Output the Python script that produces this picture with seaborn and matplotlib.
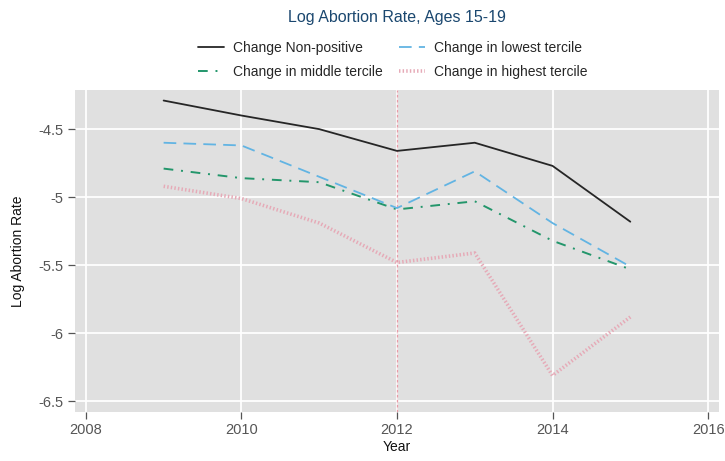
import matplotlib
matplotlib.use("Agg")
import matplotlib.pyplot as plt
import seaborn as sns
import pandas as pd

years = [2009, 2010, 2011, 2012, 2013, 2014, 2015]
non_positive = [-4.29, -4.40, -4.50, -4.66, -4.60, -4.77, -5.18]
lowest = [-4.60, -4.62, -4.85, -5.08, -4.81, -5.19, -5.51]
middle = [-4.79, -4.86, -4.89, -5.09, -5.03, -5.32, -5.53]
highest = [-4.92, -5.01, -5.19, -5.48, -5.41, -6.31, -5.88]

series_labels = ["Change Non-positive", "Change in middle tercile",
                 "Change in lowest tercile", "Change in highest tercile"]
x_ticks = [2008, 2010, 2012, 2014, 2016]
y_ticks = [-4.5, -5, -5.5, -6, -6.5]
y_tick_labels = ["-4.5", "-5", "-5.5", "-6", "-6.5"]
policy_year = 2012

sns.set_theme(style="darkgrid")
plt.rcParams["font.family"] = ["Liberation Sans", "DejaVu Sans"]

fig = plt.figure(figsize=(7.25, 4.61), dpi=100)
ax = fig.add_axes([0.1034, 0.1063, 0.8883, 0.6985])
ax.set_facecolor("#e0e0e0")

styles = {
    "Change Non-positive": dict(values=non_positive, color="#262626", ls="-", lw=1.3),
    "Change in middle tercile": dict(values=middle, color="#23966b", ls=(0, (5, 4, 1, 4)), lw=1.4),
    "Change in lowest tercile": dict(values=lowest, color="#62b4e3", ls=(0, (7, 4)), lw=1.3),
    "Change in highest tercile": dict(values=highest, color="#e6aab7", ls=(0, (0.4, 0.6)), lw=2.6),
}

for name in series_labels:
    s = styles[name]
    df = pd.DataFrame({"Year": years, "Rate": s["values"]})
    sns.lineplot(data=df, x="Year", y="Rate", ax=ax, color=s["color"],
                 linestyle=s["ls"], linewidth=s["lw"], label=name)

ax.axvline(policy_year, color="#e79aa6", gapcolor="#f2e2e5",
           linestyle=(0, (2, 2)), linewidth=0.9, zorder=1.5)

ax.set_xlim(2007.86, 2016.14)
ax.set_ylim(-6.578, -4.2125)
ax.set_xticks(x_ticks)
ax.set_yticks(y_ticks)
ax.set_yticklabels(y_tick_labels)
ax.grid(True, color="white", linewidth=1.3)
for sp in ax.spines.values():
    sp.set_visible(False)
ax.tick_params(axis="both", which="major", direction="out", length=5, width=0.9,
               color="#555555", bottom=True, left=True,
               labelcolor="#555555", labelsize=10.5, pad=3)
ax.set_xlabel("Year", fontsize=10, color="#111111", labelpad=2)
ax.set_ylabel("Log Abortion Rate", fontsize=10, color="#111111", labelpad=10)

handles, labels = ax.get_legend_handles_labels()
ax.get_legend().remove()
fig.legend(handles, labels, ncol=2, loc="center", bbox_to_anchor=(0.542, 0.87),
           frameon=False, fontsize=10, handlelength=1.9, columnspacing=1.15,
           labelspacing=0.75, handletextpad=0.65)

fig.text(0.547, 0.962, "Log Abortion Rate, Ages 15-19", ha="center", va="center",
         fontsize=11.5, color="#1a476f")

fig.savefig("out.png", dpi=100, facecolor="white")
